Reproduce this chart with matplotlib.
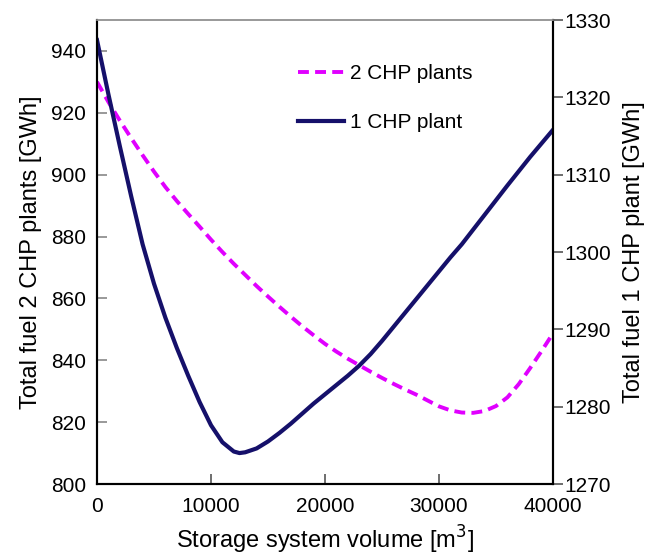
import matplotlib
matplotlib.use("Agg")
import matplotlib.pyplot as plt

plt.rcParams['font.family'] = ['Liberation Sans', 'DejaVu Sans']

# storage volume [m3]
vol_one = [0, 1000, 2000, 3000, 4000, 5000, 6000, 7000, 8000, 9000, 10000,
           11000, 12000, 12500, 13000, 14000, 15000, 16000, 17000, 18000,
           19000, 20000, 21000, 22000, 23000, 24000, 25000, 26000, 27000,
           28000, 29000, 30000, 31000, 32000, 34000, 36000, 38000, 40000]
# total fuel 1 CHP plant [GWh] (right axis)
fuel_one = [1327.4, 1320.4, 1313.7, 1307.2, 1301.0, 1295.9, 1291.5, 1287.6,
            1284.0, 1280.6, 1277.6, 1275.4, 1274.2, 1274.0, 1274.1, 1274.6,
            1275.5, 1276.6, 1277.8, 1279.1, 1280.4, 1281.6, 1282.8, 1284.0,
            1285.3, 1286.8, 1288.5, 1290.3, 1292.1, 1293.9, 1295.7, 1297.5,
            1299.3, 1301.0, 1304.8, 1308.6, 1312.3, 1315.8]

vol_two = list(range(0, 40001, 1000))
# total fuel 2 CHP plants [GWh] (left axis)
fuel_two = [930.0, 923.5, 917.5, 911.8, 906.3, 901.0, 896.0, 891.5, 887.3,
            883.2, 879.0, 875.0, 871.2, 867.6, 864.0, 860.6, 857.3, 854.1,
            851.0, 848.1, 845.3, 842.8, 840.5, 838.4, 836.3, 834.3, 832.4,
            830.6, 828.9, 827.0, 825.1, 823.8, 823.1, 823.0, 823.6, 825.2,
            828.0, 832.3, 837.5, 843.0, 848.7]

fig = plt.figure(figsize=(6.55, 5.57), dpi=100)
ax = fig.add_axes([97 / 655, 1 - 484 / 557, 456 / 655, 464 / 557])
ax2 = ax.twinx()

magenta = '#e000ff'
navy = '#15106a'

l2, = ax.plot(vol_two, fuel_two, color=magenta, lw=2.8, dashes=(2.8, 1.6),
              label='2 CHP plants')
l1, = ax2.plot(vol_one, fuel_one, color=navy, lw=3.0, label='1 CHP plant')

ax.set_xlim(0, 40000)
ax.set_ylim(800, 950)
ax2.set_ylim(1270, 1330)
ax.set_xticks([0, 10000, 20000, 30000, 40000])
ax.set_yticks(range(800, 941, 20))
ax2.set_yticks(range(1270, 1331, 10))

fs = 15
lfs = 17
ax.tick_params(axis='y', direction='in', length=7, width=1.2, color='#888888',
               labelsize=fs, pad=8)
ax.tick_params(axis='x', direction='in', length=7, width=1.2, color='#555555',
               labelsize=fs, pad=9)
ax2.tick_params(axis='y', direction='out', length=7, width=1.2, color='#555555',
                labelsize=fs, pad=1)

for a in (ax, ax2):
    for s in ('left', 'bottom', 'right'):
        a.spines[s].set_linewidth(1.5)
        a.spines[s].set_color('black')
    a.spines['top'].set_color('#999999')
    a.spines['top'].set_linewidth(1.2)

ax.set_xlabel('Storage system volume [m$^3$]', fontsize=lfs, labelpad=6)
ax.set_ylabel('Total fuel 2 CHP plants [GWh]', fontsize=lfs, labelpad=6)
ax2.set_ylabel('Total fuel 1 CHP plant [GWh]', fontsize=lfs, labelpad=9)

ax2.legend([l2, l1], ['2 CHP plants', '1 CHP plant'], loc='upper left',
           bbox_to_anchor=(0.40, 0.945), frameon=False, fontsize=fs,
           handlelength=2.2, labelspacing=1.45, handletextpad=0.3)

fig.savefig('out.png', dpi=100)
